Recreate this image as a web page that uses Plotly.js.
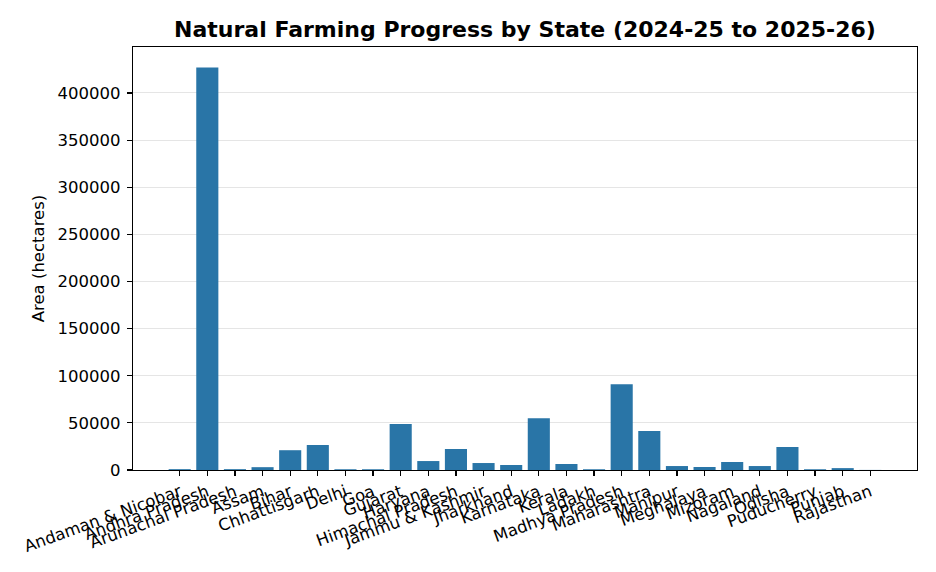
<!DOCTYPE html>
<html>
<head>
<meta charset="utf-8">
<script src="https://cdn.plot.ly/plotly-3.0.1.min.js"></script>
<style>html,body{margin:0;padding:0;background:#fff;}#chart{width:936px;height:572px;}</style>
</head>
<body>
<div id="chart"></div>
<script>
const states = ["Andaman & Nicobar","Andhra Pradesh","Arunachal Pradesh","Assam","Bihar","Chhattisgarh","Delhi","Goa","Gujarat","Haryana","Himachal Pradesh","Jammu & Kashmir","Jharkhand","Karnataka","Kerala","Ladakh","Madhya Pradesh","Maharashtra","Manipur","Meghalaya","Mizoram","Nagaland","Odisha","Puducherry","Punjab","Rajasthan"];
const areaHectares = [900, 427000, 900, 3000, 21000, 26500, 800, 800, 48800, 9500, 22300, 7400, 5300, 55000, 6400, 800, 91000, 41400, 4200, 3200, 8500, 4200, 24400, 800, 2000, 100];
const yTicks = [0, 50000, 100000, 150000, 200000, 250000, 300000, 350000, 400000];

const font = "DejaVu Sans, sans-serif";
const trace = {
  type: "bar",
  x: states.map((s, i) => i),
  y: areaHectares,
  marker: {color: "#2975a7", line: {width: 0}},
  hoverinfo: "x+y"
};
const layout = {
  width: 936, height: 572,
  margin: {l: 133, r: 19, t: 47, b: 102},
  paper_bgcolor: "#fff", plot_bgcolor: "#fff",
  bargap: 0.2,
  showlegend: false,
  font: {family: font, color: "#000", size: 16.5},
  title: {text: "<b>Natural Farming Progress by State (2024-25 to 2025-26)</b>", x: 0.5, xref: "paper", xanchor: "center", y: 0.949, yref: "container", yanchor: "middle", font: {family: font, size: 22, color: "#000"}},
  xaxis: {
    range: [-1.69, 26.69],
    tickmode: "array",
    tickvals: states.map((s, i) => i),
    ticktext: states,
    tickangle: -20,
    ticks: "outside", ticklen: 5, tickwidth: 1.2, tickcolor: "#000",
    showline: true, linecolor: "#000", linewidth: 1.2, mirror: true,
    showgrid: false, zeroline: false,
    tickfont: {family: font, size: 16.5, color: "#000"},
    automargin: false
  },
  yaxis: {
    range: [0, 448800],
    tickmode: "array",
    tickvals: yTicks,
    ticktext: yTicks.map(String),
    ticks: "outside", ticklen: 5, tickwidth: 1.2, tickcolor: "#000",
    ticklabelstandoff: 3,
    showline: true, linecolor: "#000", linewidth: 1.2, mirror: true,
    showgrid: true, gridcolor: "rgba(0,0,0,0.1)", gridwidth: 1,
    zeroline: false,
    tickfont: {family: font, size: 16.5, color: "#000"},
    title: {text: "Area (hectares)", font: {family: font, size: 16.5, color: "#000"}, standoff: 8},
    automargin: false
  }
};
Plotly.newPlot("chart", [trace], layout, {displayModeBar: false, staticPlot: true});
</script>
</body>
</html>
